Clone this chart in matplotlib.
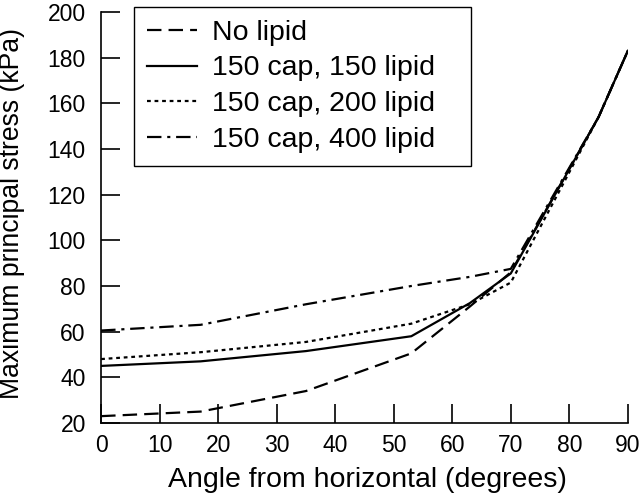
import matplotlib
matplotlib.use("Agg")
import matplotlib.pyplot as plt

plt.rcParams['font.family'] = ['Liberation Sans', 'DejaVu Sans']

# angle from horizontal (degrees)
angle = [0, 17, 35, 53, 63, 70, 85, 90]

no_lipid = [23, 25, 34, 50.5, 71, 86, 154, 183]
cap150_lipid150 = [45, 47, 51.5, 58, 72.5, 85.5, 154, 183]
cap150_lipid200 = [48, 51, 55.5, 63.5, 72, 81.5, 154, 183]
cap150_lipid400 = [60.5, 63, 72, 80, 84, 87.5, 154, 183]

labels = ["No lipid", "150 cap, 150 lipid", "150 cap, 200 lipid", "150 cap, 400 lipid"]

fig = plt.figure(figsize=(6.4, 5.0), dpi=100)
ax = fig.add_axes([0.158, 0.154, 0.823, 0.822])

lw = 1.6
ax.plot(angle, no_lipid, color='black', lw=lw, dashes=(6.5, 3.2), label=labels[0])
ax.plot(angle, cap150_lipid150, color='black', lw=lw, label=labels[1])
ax.plot(angle, cap150_lipid200, color='black', lw=lw, dashes=(1.7, 1.7), label=labels[2])
ax.plot(angle, cap150_lipid400, color='black', lw=lw, dashes=(6.5, 2.6, 1.4, 2.6), label=labels[3])

ax.set_xlim(0, 90)
ax.set_ylim(20, 200)
ax.set_xticks(range(0, 91, 10))
ax.set_yticks(range(20, 201, 20))

for s in ['top', 'right']:
    ax.spines[s].set_visible(False)
for s in ['left', 'bottom']:
    ax.spines[s].set_linewidth(1.2)

ax.tick_params(direction='in', length=14, width=1.2, labelsize=16.5)
ax.tick_params(axis='y', pad=11)
ax.tick_params(axis='x', pad=8)

ax.set_xlabel("Angle from horizontal (degrees)", fontsize=20.5)
ax.set_ylabel("Maximum principal stress (kPa)", fontsize=19.2)
ax.xaxis.set_label_coords(0.506, -0.108)
ax.yaxis.set_label_coords(-0.145, 0.51)

leg = ax.legend(loc='upper left',
                bbox_to_anchor=(134 / 640, 1 - 166 / 500, 337 / 640, 159 / 500),
                bbox_transform=fig.transFigure, mode='expand', borderaxespad=0,
                fontsize=20.5, fancybox=False, framealpha=1,
                handlelength=1.75, labelspacing=0.34, borderpad=0.45,
                handletextpad=0.55)
leg.get_frame().set_edgecolor('black')
leg.get_frame().set_linewidth(1.0)

fig.savefig("out.png", dpi=100)
